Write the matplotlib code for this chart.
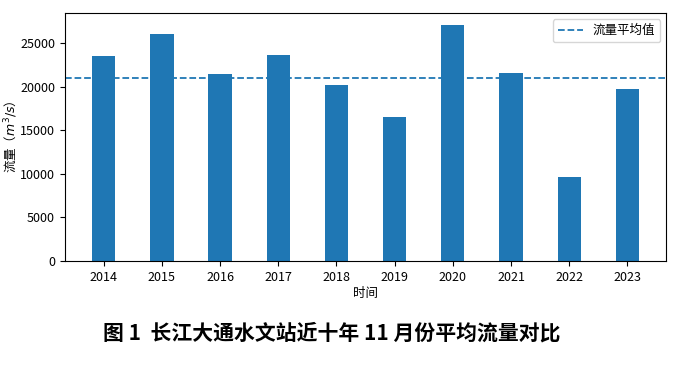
import matplotlib
matplotlib.use("Agg")
import matplotlib.pyplot as plt
import numpy as np

plt.rcParams['font.family'] = ['Noto Sans CJK SC', 'DejaVu Sans']
plt.rcParams['axes.unicode_minus'] = False

years = ['2014', '2015', '2016', '2017', '2018', '2019', '2020', '2021', '2022', '2023']
flow = [23570, 26090, 21510, 23680, 20140, 16480, 27120, 21570, 9610, 19680]
mean_flow = 20990

fig = plt.figure(figsize=(6.82, 3.89), dpi=100)
ax = fig.add_axes([0.095, 0.329, 0.882, 0.638])
x = np.arange(len(years))
ax.bar(x, flow, width=0.4, color='#1f77b4')
ax.axhline(mean_flow, linestyle='--', color='#1f77b4', linewidth=1.3, label='流量平均值')
ax.set_xticks(x)
ax.set_xticklabels(years, fontsize=9)
ax.tick_params(axis='y', labelsize=9)
ax.set_xlabel('时间', fontsize=9, labelpad=2)
ax.set_ylabel('流量（$m^3/s$）', fontsize=9)
ax.yaxis.set_label_coords(-0.075, 0.5)
ax.legend(loc='upper right', fontsize=9)
fig.text(0.486, 0.145, '图 1  长江大通水文站近十年 11 月份平均流量对比', ha='center', va='center',
         fontsize=15, fontweight='bold')
fig.savefig('out.png', dpi=100)
